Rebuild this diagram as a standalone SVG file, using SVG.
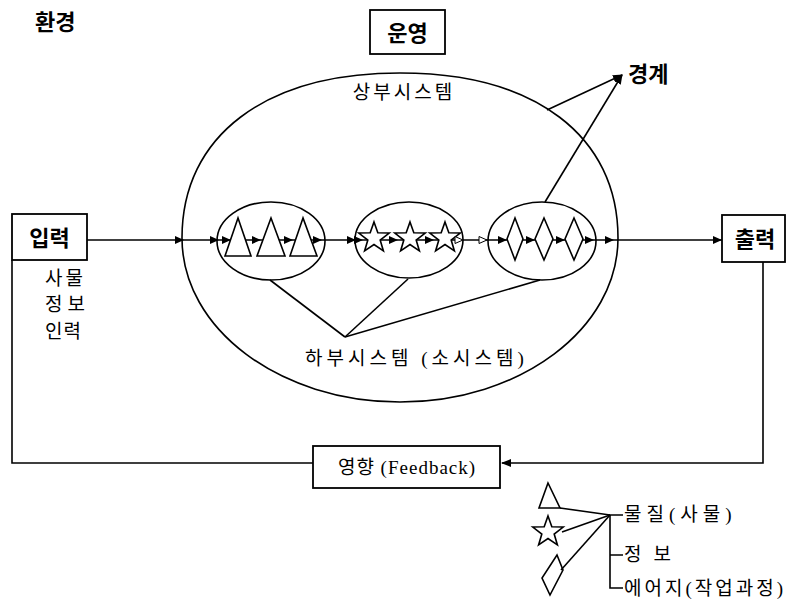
<svg xmlns="http://www.w3.org/2000/svg" xmlns:xlink="http://www.w3.org/1999/xlink" width="801" height="603" viewBox="0 0 801 603">
<style>
.ln{fill:none;stroke:#000;stroke-width:1.6}
.box{fill:#fff;stroke:#000;stroke-width:1.8}
.shp{fill:#fff;stroke:#000;stroke-width:1.6}
.bold{font-family:"Noto Sans CJK KR",sans-serif;font-weight:bold;font-size:22px;fill:#000}
.reg{font-family:"Liberation Serif","Noto Sans CJK KR",serif;font-size:19px;fill:#000}
</style>
<defs>
<path id="ah" d="M0,0 L-9,-4 L-9,4 Z" fill="#000"/>
<path id="aho" d="M0,0 L-8,-3.5 L-8,3.5 Z" fill="#fff" stroke="#000" stroke-width="1"/>
<path id="star" d="M0,-16 L3.82,-5.26 L15.22,-4.94 L6.18,2.01 L9.4,12.94 L0,6.5 L-9.4,12.94 L-6.18,2.01 L-15.22,-4.94 L-3.82,-5.26 Z"/>
<marker id="arr" viewBox="0 0 10 10" refX="9" refY="5" markerWidth="10" markerHeight="10" markerUnits="userSpaceOnUse" orient="auto">
<path d="M0,1 L10,5 L0,9 Z" fill="#000"/>
</marker>
</defs>

<text class="bold" x="35" y="30">환경</text>

<g id="operation">
<rect class="box" x="370" y="10" width="75" height="44"/>
<text class="bold" x="407.5" y="41" text-anchor="middle">운영</text>
</g>

<g id="supersystem">
<path class="ln" d="M400,73 C535,73 618,136 618,238 C618,329 520,402 400,402 C280,402 182,329 182,238 C182,136 265,73 400,73 Z"/>
<text class="reg" x="404" y="99" text-anchor="middle" letter-spacing="3">상부시스템</text>
</g>

<g id="boundary">
<text class="bold" x="628" y="82">경계</text>
</g>

<g id="input">
<rect class="box" x="12" y="214" width="75" height="46"/>
<text class="bold" x="49.5" y="246" text-anchor="middle">입력</text>
<text class="reg" x="45" y="285" font-size="20" letter-spacing="3">사물</text>
<text class="reg" x="45" y="311" font-size="20" letter-spacing="5">정보</text>
<text class="reg" x="45" y="338" font-size="20" letter-spacing="1">인력</text>
</g>

<g id="output">
<rect class="box" x="722" y="215" width="63" height="47"/>
<text class="bold" x="755" y="247" text-anchor="middle">출력</text>
</g>

<g id="connectors">
<line class="ln" x1="87" y1="240" x2="722" y2="240"/>
<path class="ln" d="M763,262 V463 H502" marker-end="url(#arr)"/>
<path class="ln" d="M313,463 H12 V260"/>
<line class="ln" x1="547" y1="110" x2="622" y2="75" marker-end="url(#arr)"/>
<line class="ln" x1="545" y1="202" x2="622" y2="75" marker-end="url(#arr)"/>
<line class="ln" x1="270" y1="280" x2="345" y2="337"/>
<line class="ln" x1="408" y1="279" x2="345" y2="337"/>
<line class="ln" x1="540" y1="280" x2="345" y2="337"/>
<use xlink:href="#ah" x="184" y="240"/>
<use xlink:href="#ah" x="219" y="240"/>
<use xlink:href="#ah" x="322" y="240"/>
<use xlink:href="#ah" x="356" y="240"/>
<use xlink:href="#ah" x="363" y="240"/>
<use xlink:href="#aho" x="487" y="240"/>
<use xlink:href="#ah" x="614" y="240"/>
<use xlink:href="#ah" x="722" y="240"/>
</g>

<g id="sub1">
<ellipse class="ln" cx="271" cy="241" rx="54" ry="39"/>
<use xlink:href="#ah" x="231" y="240"/>
<use xlink:href="#ah" x="261" y="240"/>
<use xlink:href="#ah" x="293" y="240"/>
<polygon class="shp" points="238,218 225,256 251,256"/>
<polygon class="shp" points="271,218 257,256 285,256"/>
<polygon class="shp" points="303,218 290,256 317,256"/>
</g>

<g id="sub2">
<ellipse class="ln" cx="409" cy="240" rx="54" ry="38"/>
<use xlink:href="#star" class="shp" transform="translate(374,238)"/>
<use xlink:href="#star" class="shp" transform="translate(410,238)"/>
<use xlink:href="#star" class="shp" transform="translate(445,238)"/>
<use xlink:href="#ah" x="398" y="240"/>
<use xlink:href="#ah" x="434" y="240"/>
<use xlink:href="#aho" x="463" y="240"/>
</g>

<g id="sub3">
<ellipse class="ln" cx="542" cy="241" rx="54" ry="39"/>
<use xlink:href="#ah" x="507" y="240"/>
<use xlink:href="#ah" x="535" y="240"/>
<use xlink:href="#ah" x="565" y="240"/>
<use xlink:href="#ah" x="594" y="240"/>
<polygon class="shp" points="515,218 523,239 515,260 507,239"/>
<polygon class="shp" points="544,218 553,239 544,260 535,239"/>
<polygon class="shp" points="574,218 583,239 574,260 565,239"/>
</g>

<g id="subsystem-label">
<text class="reg" x="305" y="365" font-size="20" letter-spacing="4">하부시스템 (소시스템)</text>
</g>

<g id="feedback">
<rect class="box" x="313" y="446" width="187" height="42"/>
<text class="reg" x="407" y="474" text-anchor="middle" font-size="21" letter-spacing="1">영향 (Feedback)</text>
</g>

<g id="legend">
<polygon class="shp" points="548,483 539,508 560,508"/>
<use xlink:href="#star" class="shp" transform="translate(548,532)"/>
<polygon class="shp" points="557,555 563,570 550,595 542,578"/>
<line class="ln" x1="560" y1="508" x2="610" y2="515"/>
<line class="ln" x1="562" y1="532" x2="610" y2="515"/>
<line class="ln" x1="561" y1="570" x2="610" y2="515"/>
<path class="ln" d="M623,515 H610 V588 H623 M610,555 H623"/>
<text class="reg" x="624" y="521" font-size="20" letter-spacing="5">물질(사물)</text>
<text class="reg" x="624" y="561" font-size="20" letter-spacing="12">정보</text>
<text class="reg" x="624" y="595" font-size="20" letter-spacing="3">에어지(작업과정)</text>
</g>
</svg>
